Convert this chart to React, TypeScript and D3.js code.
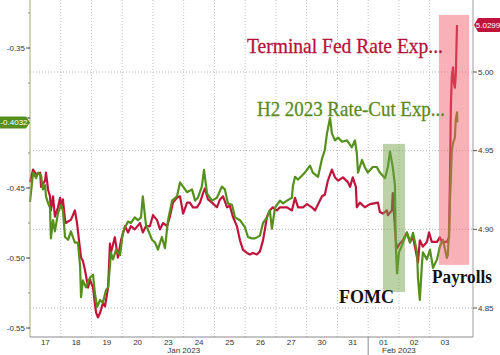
import React from "react";
import * as d3 from "d3";

const dayLabels = ["17", "18", "19", "20", "23", "24", "25", "26", "27", "30", "31", "01", "02", "03"];
const monthLabels = [
  { label: "Jan 2023", day: 5 },
  { label: "Feb 2023", day: 12 },
];
const monthBreak = 11;
const leftTicks = [-0.35, -0.4, -0.45, -0.5, -0.55];
const rightTicks = [5.0, 4.95, 4.9, 4.85];

// H2 2023 rate-cut expectations (left axis) [trading-day index, value]
const cutSeries: [number, number][] = [
  [0, -0.46], [0.1, -0.439], [0.2, -0.443], [0.26, -0.439], [0.36, -0.441], [0.42, -0.451], [0.49, -0.448], [0.52, -0.456],
  [0.59, -0.461], [0.65, -0.464], [0.68, -0.486], [0.75, -0.473], [0.81, -0.481], [0.91, -0.468], [1.01, -0.462], [1.07, -0.466],
  [1.14, -0.485], [1.24, -0.487], [1.33, -0.481], [1.46, -0.489], [1.56, -0.489], [1.63, -0.506], [1.66, -0.528], [1.72, -0.516],
  [1.82, -0.521], [1.95, -0.514], [2.05, -0.512], [2.11, -0.525], [2.18, -0.535], [2.28, -0.53], [2.37, -0.532], [2.47, -0.523],
  [2.54, -0.521], [2.6, -0.506], [2.63, -0.496], [2.7, -0.501], [2.8, -0.494], [2.93, -0.498], [3.02, -0.482], [3.09, -0.478],
  [3.19, -0.474], [3.28, -0.475], [3.41, -0.471], [3.51, -0.473], [3.61, -0.471], [3.67, -0.456], [3.77, -0.476], [3.84, -0.48],
  [3.97, -0.487], [4.07, -0.489], [4.16, -0.494], [4.29, -0.485], [4.39, -0.493], [4.49, -0.473], [4.62, -0.459], [4.78, -0.456],
  [4.88, -0.446], [4.98, -0.449], [5.11, -0.453], [5.27, -0.451], [5.37, -0.459], [5.46, -0.457], [5.59, -0.449], [5.66, -0.437],
  [5.76, -0.454], [5.92, -0.459], [6.08, -0.457], [6.24, -0.449], [6.34, -0.451], [6.44, -0.461], [6.57, -0.462], [6.67, -0.471],
  [6.83, -0.473], [6.99, -0.478], [7.09, -0.485], [7.22, -0.486], [7.32, -0.486], [7.48, -0.484], [7.58, -0.475], [7.71, -0.471],
  [7.8, -0.466], [7.87, -0.479], [7.97, -0.464], [8.13, -0.459], [8.23, -0.461], [8.36, -0.459], [8.52, -0.457], [8.55, -0.449],
  [8.62, -0.442], [8.72, -0.444], [8.85, -0.441], [8.94, -0.439], [9.11, -0.434], [9.2, -0.439], [9.37, -0.442], [9.5, -0.429],
  [9.59, -0.423], [9.66, -0.411], [9.76, -0.4], [9.82, -0.411], [9.92, -0.416], [10.02, -0.414], [10.15, -0.417], [10.31, -0.416],
  [10.47, -0.421], [10.57, -0.416], [10.63, -0.425], [10.67, -0.439], [10.8, -0.43], [10.89, -0.435], [10.99, -0.439], [11.15, -0.435],
  [11.28, -0.435], [11.38, -0.439], [11.55, -0.443], [11.64, -0.435], [11.71, -0.424], [11.8, -0.435], [11.87, -0.448], [11.9, -0.492],
  [11.94, -0.511], [12.0, -0.496], [12.1, -0.491], [12.2, -0.485], [12.26, -0.482], [12.36, -0.489], [12.46, -0.482], [12.59, -0.496],
  [12.62, -0.514], [12.68, -0.53], [12.75, -0.504], [12.78, -0.496], [12.91, -0.501], [13.01, -0.494], [13.11, -0.507], [13.24, -0.501],
  [13.33, -0.492], [13.43, -0.487], [13.56, -0.5], [13.59, -0.498], [13.63, -0.482], [13.66, -0.459], [13.69, -0.444], [13.72, -0.423],
  [13.76, -0.418], [13.82, -0.414], [13.85, -0.401], [13.89, -0.396], [13.9, -0.4032],
];

// Terminal Fed rate expectations (right axis)
const terminalSeries: [number, number][] = [
  [0, 4.93], [0.1, 4.938], [0.2, 4.935], [0.33, 4.936], [0.36, 4.927], [0.49, 4.931], [0.52, 4.936], [0.59, 4.925],
  [0.65, 4.921], [0.68, 4.912], [0.75, 4.921], [0.81, 4.908], [0.91, 4.914], [0.98, 4.92], [1.01, 4.914], [1.07, 4.919],
  [1.14, 4.906], [1.17, 4.904], [1.24, 4.905], [1.33, 4.906], [1.46, 4.912], [1.53, 4.904], [1.63, 4.887], [1.66, 4.882],
  [1.72, 4.88], [1.79, 4.874], [1.89, 4.863], [1.95, 4.868], [2.05, 4.863], [2.11, 4.853], [2.15, 4.847], [2.21, 4.844],
  [2.28, 4.847], [2.37, 4.853], [2.44, 4.851], [2.54, 4.863], [2.6, 4.891], [2.63, 4.885], [2.76, 4.895], [2.86, 4.882],
  [2.96, 4.893], [3.09, 4.902], [3.19, 4.898], [3.28, 4.902], [3.41, 4.9], [3.58, 4.904], [3.67, 4.898], [3.77, 4.902],
  [3.9, 4.902], [4.0, 4.909], [4.13, 4.906], [4.23, 4.9], [4.33, 4.904], [4.46, 4.902], [4.55, 4.908], [4.65, 4.917],
  [4.78, 4.92], [4.88, 4.921], [4.98, 4.91], [5.11, 4.917], [5.2, 4.917], [5.3, 4.914], [5.43, 4.914], [5.53, 4.917],
  [5.63, 4.923], [5.69, 4.926], [5.79, 4.919], [5.92, 4.917], [6.08, 4.914], [6.18, 4.919], [6.28, 4.921], [6.41, 4.914],
  [6.5, 4.915], [6.6, 4.908], [6.73, 4.902], [6.83, 4.893], [6.93, 4.887], [7.06, 4.885], [7.15, 4.884], [7.25, 4.885],
  [7.38, 4.884], [7.48, 4.886], [7.58, 4.893], [7.71, 4.908], [7.8, 4.912], [7.9, 4.914], [8.03, 4.912], [8.13, 4.914],
  [8.36, 4.914], [8.52, 4.912], [8.62, 4.92], [8.72, 4.914], [8.88, 4.914], [9.01, 4.916], [9.17, 4.914], [9.27, 4.912],
  [9.37, 4.916], [9.5, 4.921], [9.59, 4.922], [9.69, 4.931], [9.82, 4.938], [9.92, 4.933], [10.02, 4.931], [10.18, 4.933],
  [10.34, 4.93], [10.41, 4.927], [10.5, 4.933], [10.6, 4.927], [10.63, 4.914], [10.73, 4.917], [10.89, 4.914], [11.06, 4.916],
  [11.32, 4.917], [11.38, 4.911], [11.48, 4.91], [11.61, 4.912], [11.64, 4.909], [11.77, 4.912], [11.8, 4.923], [11.84, 4.91],
  [11.9, 4.893], [11.94, 4.888], [12.03, 4.891], [12.13, 4.893], [12.26, 4.898], [12.36, 4.892], [12.46, 4.895], [12.59, 4.882],
  [12.62, 4.879], [12.68, 4.893], [12.78, 4.889], [12.91, 4.892], [12.98, 4.898], [13.07, 4.892], [13.24, 4.892], [13.33, 4.895],
  [13.4, 4.892], [13.56, 4.892], [13.63, 4.895], [13.66, 4.931], [13.69, 4.978], [13.72, 4.997], [13.76, 5.003], [13.79, 4.993],
  [13.82, 4.99], [13.85, 4.998], [13.89, 5.0299],
];

// highlight boxes in (day, right-axis value) units
const fomcBox = { t0: 11.48, t1: 12.2, v0: 4.9543, v1: 4.8602 };
const payrollsBox = { t0: 13.3, t1: 14.28, v0: 5.0363, v1: 4.8774 };

const W = 500;
const H = 355;
const left = 30;
const right = 473;
const bottom = 337;

const RED = "#c0143c";
const GREEN = "#55901c";

export default function App() {
  const x = d3.scaleLinear().domain([0, 14.41]).range([left, right]);
  const yL = d3.scaleLinear().domain([-0.55, -0.35]).range([328, 48]);
  const yR = d3.scaleLinear().domain([4.85, 5.0]).range([308, 72]);

  const cutLine = d3.line<[number, number]>().x((d) => x(d[0])).y((d) => yL(d[1]));
  const termLine = d3.line<[number, number]>().x((d) => x(d[0])).y((d) => yR(d[1]));

  const lastCut = cutSeries[cutSeries.length - 1][1];
  const lastTerm = terminalSeries[terminalSeries.length - 1][1];
  const yCut = yL(lastCut);
  const yTerm = yR(lastTerm);

  const minorLeft = d3.range(-0.55, -0.324, 0.025);

  const box = (b: typeof fomcBox) => ({
    x: x(b.t0),
    y: yR(b.v0),
    w: x(b.t1) - x(b.t0),
    h: yR(b.v1) - yR(b.v0),
  });
  const fb = box(fomcBox);
  const pb = box(payrollsBox);

  const serif = "'Liberation Serif', 'DejaVu Serif', serif";
  const sans = "'Liberation Sans', Arial, sans-serif";

  // the -0.40 tick label sits under the last-value tag, so it is not drawn
  const visibleLeftLabels = leftTicks.filter((v) => Math.abs(yL(v) - yCut) > 8);

  return (
    <svg
      width={W}
      height={H}
      style={{ position: "absolute", left: 0, top: 0, background: "#fff" }}
      fontFamily={sans}
    >
      <rect x={0} y={0} width={W} height={H} fill="#fff" />
      {/* horizontal grid */}
      {rightTicks.map((v) => (
        <line key={"hg" + v} x1={left} x2={right} y1={yR(v)} y2={yR(v)} stroke="#b8b8b8" strokeDasharray="1,2" strokeWidth={1} />
      ))}
      {/* vertical grid */}
      {dayLabels.map((_, i) =>
        i === 0 ? null : (
          <line key={"vg" + i} x1={x(i)} x2={x(i)} y1={0} y2={bottom} stroke="#c4c4c4" strokeDasharray="1,2" strokeWidth={1} />
        )
      )}
      <line x1={x(monthBreak)} x2={x(monthBreak)} y1={bottom} y2={H} stroke="#8a8a8a" strokeWidth={1} />

      {/* lines */}
      <path d={termLine(terminalSeries) || ""} fill="none" stroke={RED} strokeWidth={2.2} strokeLinejoin="round" />
      <path d={cutLine(cutSeries) || ""} fill="none" stroke={GREEN} strokeWidth={2.2} strokeLinejoin="round" />

      {/* highlight boxes */}
      <rect x={fb.x} y={fb.y} width={fb.w} height={fb.h} fill="rgb(110,160,70)" opacity={0.48} />
      <rect x={pb.x} y={pb.y} width={pb.w} height={pb.h} fill="rgb(240,95,105)" opacity={0.48} />

      {/* axes */}
      <line x1={left} x2={left} y1={0} y2={bottom} stroke="#a8a878" strokeWidth={1} />
      <line x1={right} x2={right} y1={0} y2={bottom} stroke="#9a9a9a" strokeWidth={1} />
      <line x1={left} x2={right} y1={bottom} y2={bottom} stroke="#8a8a8a" strokeWidth={1} />

      {minorLeft.map((v, i) => (
        <line key={"ml" + i} x1={left - 2} x2={left} y1={yL(v)} y2={yL(v)} stroke="#888" />
      ))}
      {leftTicks.map((v) => (
        <line key={"ltk" + v} x1={left - 4} x2={left} y1={yL(v)} y2={yL(v)} stroke="#555" />
      ))}
      {visibleLeftLabels.map((v) => (
        <text key={"lt" + v} x={left - 5} y={yL(v)} dy="0.35em" textAnchor="end" fontSize={8} fill="#333">
          {v.toFixed(2)}
        </text>
      ))}
      {rightTicks.map((v) => (
        <g key={"rt" + v}>
          <line x1={right} x2={right + 4} y1={yR(v)} y2={yR(v)} stroke="#555" />
          <text x={right + 5} y={yR(v)} dy="0.35em" textAnchor="start" fontSize={8} fill="#333">
            {v.toFixed(2)}
          </text>
        </g>
      ))}

      {dayLabels.map((d, i) => (
        <text key={"dl" + i} x={x(i + 0.5)} y={345} textAnchor="middle" fontSize={8} fill="#333">
          {d}
        </text>
      ))}
      {monthLabels.map((m) => (
        <text key={m.label} x={x(m.day)} y={353} textAnchor="middle" fontSize={8} fill="#333">
          {m.label}
        </text>
      ))}

      {/* last-value labels */}
      <path
        d={`M0,${yCut - 6} L26,${yCut - 6} L30,${yCut} L26,${yCut + 6} L0,${yCut + 6} Z`}
        fill={GREEN}
      />
      <text x={14} y={yCut} dy="0.35em" textAnchor="middle" fontSize={8} fill="#fff">
        {lastCut.toFixed(4)}
      </text>
      <path
        d={`M${right + 1},${yTerm} L${right + 5},${yTerm - 7} L${W},${yTerm - 7} L${W},${yTerm + 7} L${right + 5},${yTerm + 7} Z`}
        fill={RED}
      />
      <text x={488} y={yTerm} dy="0.35em" textAnchor="middle" fontSize={8} fill="#fff">
        {lastTerm.toFixed(4)}
      </text>

      {/* annotations */}
      <text x={247} y={53} fontFamily={serif} fontSize={21} fill="#b5123b" stroke="#b5123b" strokeWidth={0.3} textLength={196} lengthAdjust="spacingAndGlyphs">
        Terminal Fed Rate Exp...
      </text>
      <text x={257} y={116} fontFamily={serif} fontSize={21} fill="#5a8a1e" stroke="#5a8a1e" strokeWidth={0.3} textLength={188} lengthAdjust="spacingAndGlyphs">
        H2 2023 Rate-Cut Exp...
      </text>
      <text x={339} y={303} fontFamily={serif} fontWeight="bold" fontSize={18} fill="#111" textLength={55} lengthAdjust="spacingAndGlyphs">
        FOMC
      </text>
      <text x={432} y={283} fontFamily={serif} fontWeight="bold" fontSize={18} fill="#111" textLength={60} lengthAdjust="spacingAndGlyphs">
        Payrolls
      </text>
    </svg>
  );
}
